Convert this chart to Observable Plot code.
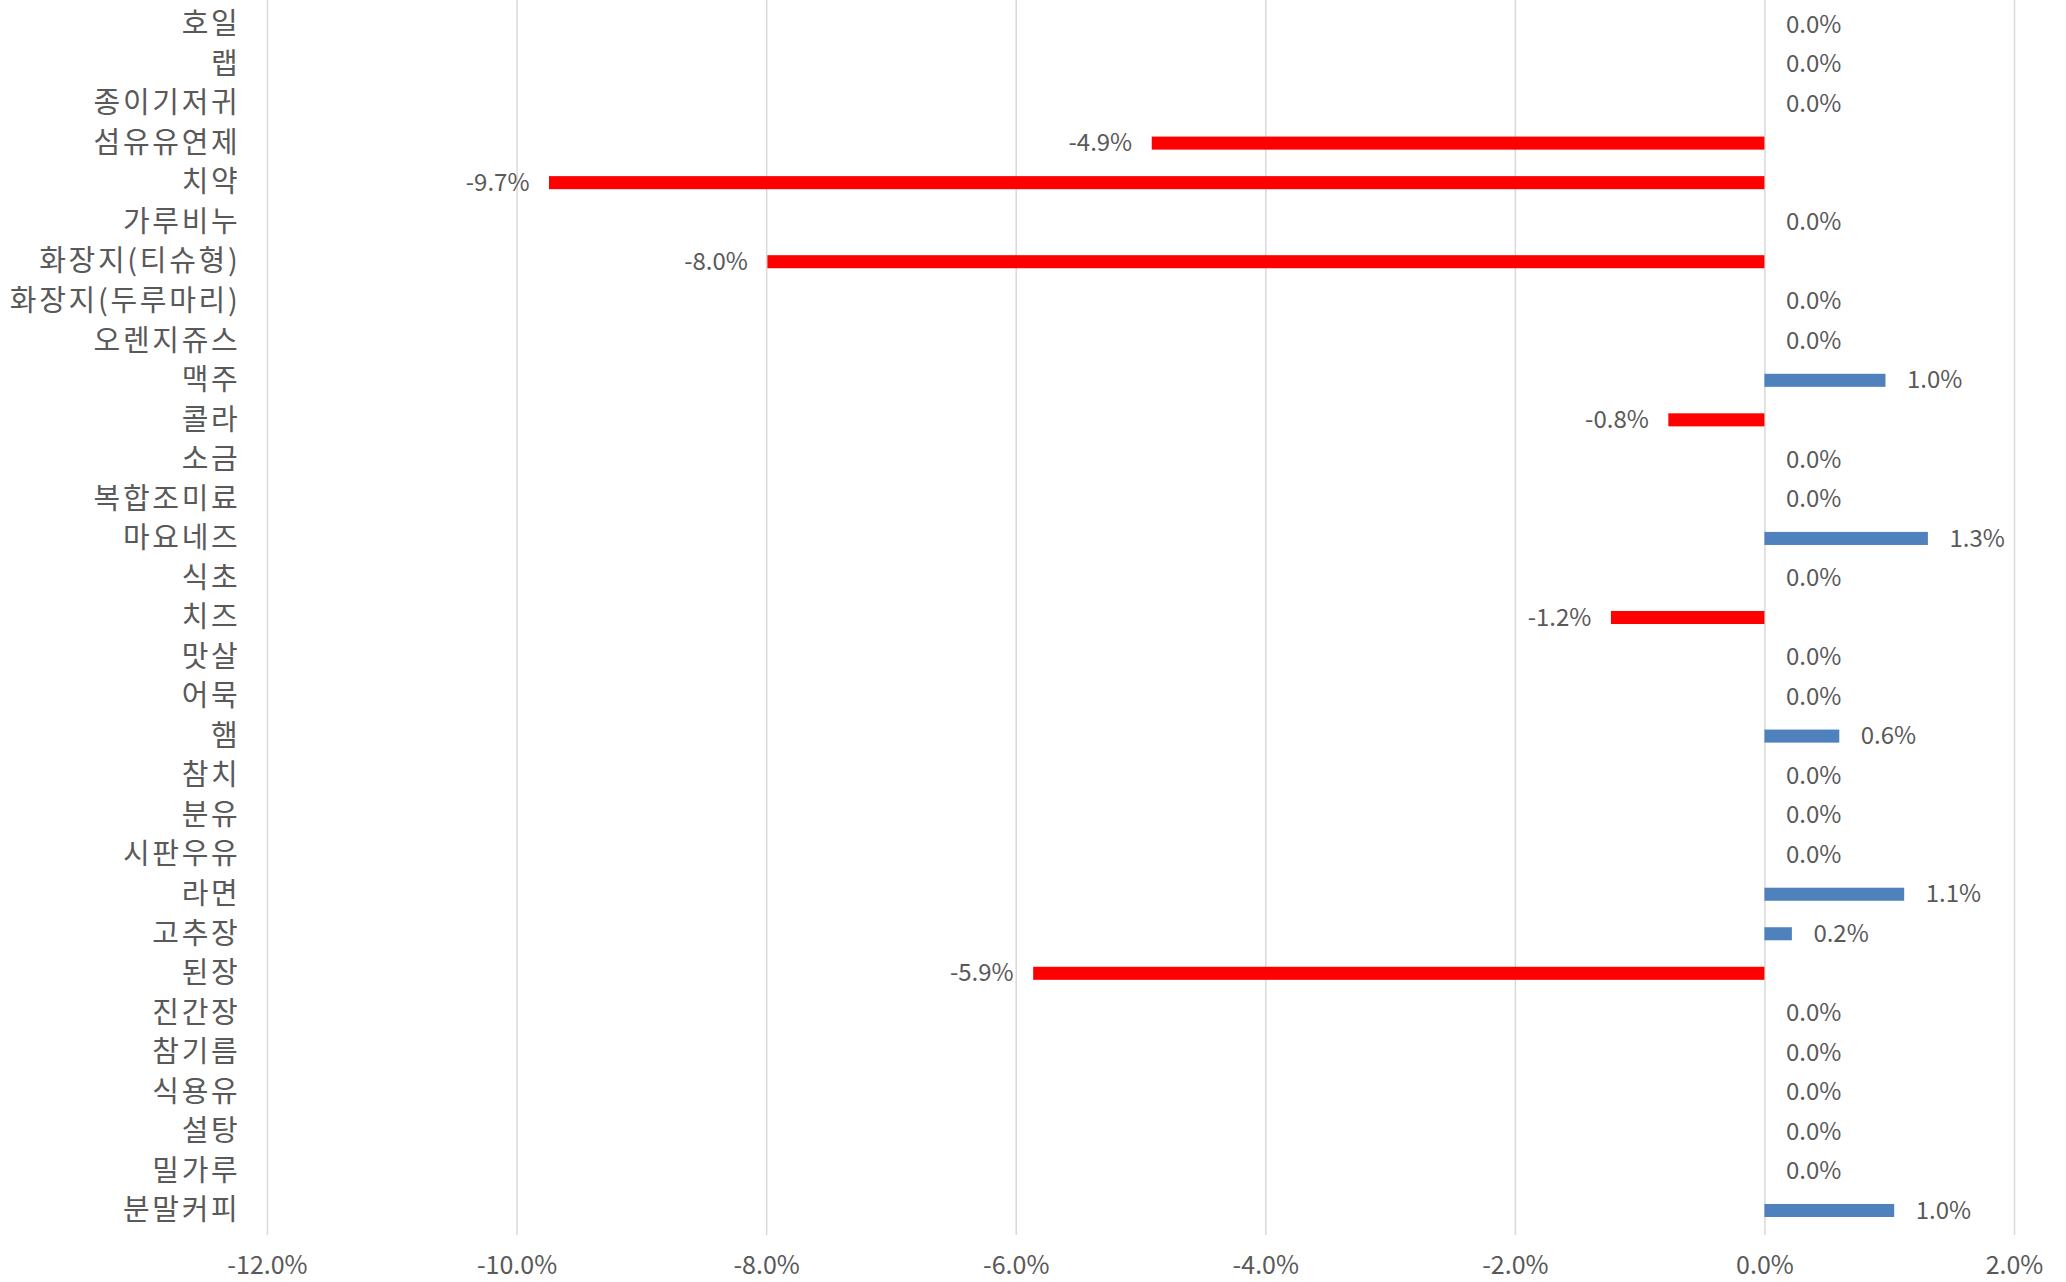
<!DOCTYPE html>
<html>
<head>
<meta charset="utf-8">
<script src="https://cdn.jsdelivr.net/npm/d3@7"></script>
<script src="https://cdn.jsdelivr.net/npm/@observablehq/plot@0.6"></script>
<style>
  html, body { margin: 0; padding: 0; background: #fff; }
  #chart { width: 2066px; height: 1282px; }
  g[aria-label="y-axis tick label"] text { letter-spacing: 2.7px; }
</style>
</head>
<body>
<div id="chart"></div>
<script>
const categories = ["호일","랩","종이기저귀","섬유유연제","치약","가루비누","화장지(티슈형)","화장지(두루마리)","오렌지쥬스","맥주","콜라","소금","복합조미료","마요네즈","식초","치즈","맛살","어묵","햄","참치","분유","시판우유","라면","고추장","된장","진간장","참기름","식용유","설탕","밀가루","분말커피"];
const values = [0, 0, 0, -4.91, -9.74, 0, -7.99, 0, 0, 0.97, -0.77, 0, 0, 1.31, 0, -1.23, 0, 0, 0.6, 0, 0, 0, 1.12, 0.22, -5.86, 0, 0, 0, 0, 0, 1.04];
const xTicks = [-12, -10, -8, -6, -4, -2, 0, 2];

const data = categories.map((c, i) => ({category: c, value: values[i]}));
const fmt = d => d.toFixed(1) + "%";

const chart = Plot.plot({
  width: 2066,
  height: 1282,
  marginTop: 0,
  marginBottom: 47,
  marginLeft: 267,
  marginRight: 52,
  style: {fontFamily: "'Noto Sans CJK KR', sans-serif", color: "#595959", background: "#fff"},
  x: {domain: [-12, 2], label: null},
  y: {domain: categories, paddingInner: 0.67, paddingOuter: 0.455, round: false, label: null},
  marks: [
    Plot.gridX(xTicks, {stroke: "#d9d9d9", strokeOpacity: 1, strokeWidth: 1.5}),
    Plot.barX(data, {x: "value", y: "category", fill: d => d.value < 0 ? "#FF0000" : "#4F81BD"}),
    Plot.text(data.filter(d => d.value < 0), {x: "value", y: "category", text: d => fmt(d.value), textAnchor: "end", dx: -20, fontSize: 24, fill: "#595959"}),
    Plot.text(data.filter(d => d.value >= 0), {x: "value", y: "category", text: d => fmt(d.value), textAnchor: "start", dx: 21, fontSize: 24, fill: "#595959"}),
    Plot.axisY({tickSize: 0, tickPadding: 27, fontSize: 29, fill: "#595959"}),
    Plot.axisX({ticks: xTicks, tickFormat: fmt, tickSize: 0, tickPadding: 21, fontSize: 25, fill: "#595959"})
  ]
});
document.getElementById("chart").appendChild(chart);
</script>
</body>
</html>
